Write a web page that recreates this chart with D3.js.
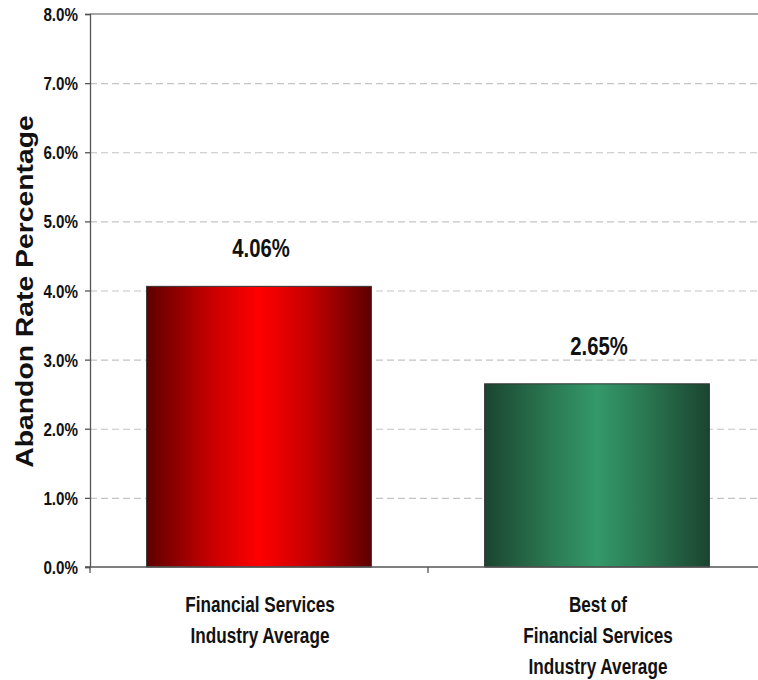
<!DOCTYPE html>
<html>
<head>
<meta charset="utf-8">
<script src="https://cdn.jsdelivr.net/npm/d3@7"></script>
<style>
  html, body { margin: 0; padding: 0; background: #fff; }
  svg { display: block; }
  text { font-family: "Liberation Sans", Arial, sans-serif; font-weight: bold; fill: #111; }
</style>
</head>
<body>
<svg id="chart" width="758" height="680"></svg>
<script>
// Abandon rate by group
const categories = [["Financial Services", "Industry Average"], ["Best of", "Financial Services", "Industry Average"]];
const values = [4.06, 2.65];
const valueLabels = ["4.06%", "2.65%"];
const yTicks = [0, 1, 2, 3, 4, 5, 6, 7, 8];
const yTitle = "Abandon Rate Percentage";
const barStops = [
  ["#5e0000", "#cc0000", "#ff0000"],
  ["#1b4430", "#2b7a53", "#34996a"]
];

const svg = d3.select("#chart");
const margin = { left: 90, right: -8, top: 14, bottom: 113 };
const W = 758, H = 680;
const x0 = margin.left, x1 = W - margin.right;
const y0 = H - margin.bottom, y1 = margin.top;
const NARROW = 0.78; // horizontal squeeze for condensed labels

const x = d3.scaleBand().domain(d3.range(values.length)).range([x0, x1]).paddingInner(0.335).paddingOuter(0.1675);
const y = d3.scaleLinear().domain([0, 8]).range([y0, y1]);

// condensed text helper: anchor at (px, py), squeezed horizontally
function narrowText(sel, px, py, size, anchor, sx = NARROW) {
  return sel.append("text")
    .attr("transform", `translate(${px},${py}) scale(${sx},1)`)
    .attr("text-anchor", anchor).attr("font-size", size);
}

// symmetric horizontal gradients: edge -> shoulder -> centre -> shoulder -> edge
const defs = svg.append("defs");
barStops.forEach((s, i) => {
  const g = defs.append("linearGradient").attr("id", "g" + i).attr("x1", "0%").attr("x2", "100%").attr("y1", "0%").attr("y2", "0%");
  [[0, s[0]], [0.3, s[1]], [0.5, s[2]], [0.7, s[1]], [1, s[0]]].forEach(([o, c]) =>
    g.append("stop").attr("offset", o).attr("stop-color", c));
});

// gridlines
svg.append("g").selectAll("line").data(yTicks.filter(t => t > 0 && t < 8)).join("line")
  .attr("x1", x0).attr("x2", x1)
  .attr("y1", d => y(d) + 0.5).attr("y2", d => y(d) + 0.5)
  .attr("stroke", "#c4c4c4").attr("stroke-width", 1.2).attr("stroke-dasharray", "7,4");

// top border of plot
svg.append("line").attr("x1", x0).attr("x2", x1).attr("y1", y(8)).attr("y2", y(8))
  .attr("stroke", "#8a8a8a").attr("stroke-width", 1.5);

// bars
svg.append("g").selectAll("rect").data(values).join("rect")
  .attr("x", (d, i) => x(i)).attr("width", x.bandwidth())
  .attr("y", d => y(d)).attr("height", d => y0 - y(d))
  .attr("fill", (d, i) => `url(#g${i})`)
  .attr("stroke", "#333").attr("stroke-width", 1);

// value labels
values.forEach((v, i) => {
  narrowText(svg, x(i) + x.bandwidth() / 2 + 2, y(v) - 29, 26, "middle").text(valueLabels[i]);
});

// y axis line and ticks
const yAxis = d3.axisLeft(y).tickValues(yTicks).tickFormat("").tickSize(5);
const gy = svg.append("g").attr("transform", `translate(${x0},0)`).call(yAxis);
gy.select(".domain").attr("stroke", "#555").attr("stroke-width", 1.3);
gy.selectAll(".tick line").attr("stroke", "#555").attr("stroke-width", 1.3);

// y tick labels
yTicks.forEach(t => {
  narrowText(svg, x0 - 12, y(t) + 7, 19, "end", 0.8).text(t.toFixed(1) + "%");
});

// x axis baseline with category separators
const gx = svg.append("g");
gx.append("line").attr("x1", x0 - 5).attr("x2", x1).attr("y1", y0).attr("y2", y0).attr("stroke", "#555").attr("stroke-width", 1.3);
const seps = d3.range(values.length + 1).map(i => x0 + i * (x1 - x0) / values.length);
gx.selectAll("line.sep").data(seps).join("line").attr("class", "sep")
  .attr("x1", d => d).attr("x2", d => d).attr("y1", y0).attr("y2", y0 + 6)
  .attr("stroke", "#555").attr("stroke-width", 1.3);

// category labels
categories.forEach((lines, i) => {
  lines.forEach((l, j) => {
    narrowText(svg, x(i) + x.bandwidth() / 2 + 1, 612 + j * 31, 22, "middle").text(l);
  });
});

// y title
svg.append("text")
  .attr("transform", `translate(33,${(y0 + y1) / 2 + 1}) rotate(-90) scale(1.18,1)`)
  .attr("text-anchor", "middle")
  .attr("font-size", 24)
  .text(yTitle);
</script>
</body>
</html>
